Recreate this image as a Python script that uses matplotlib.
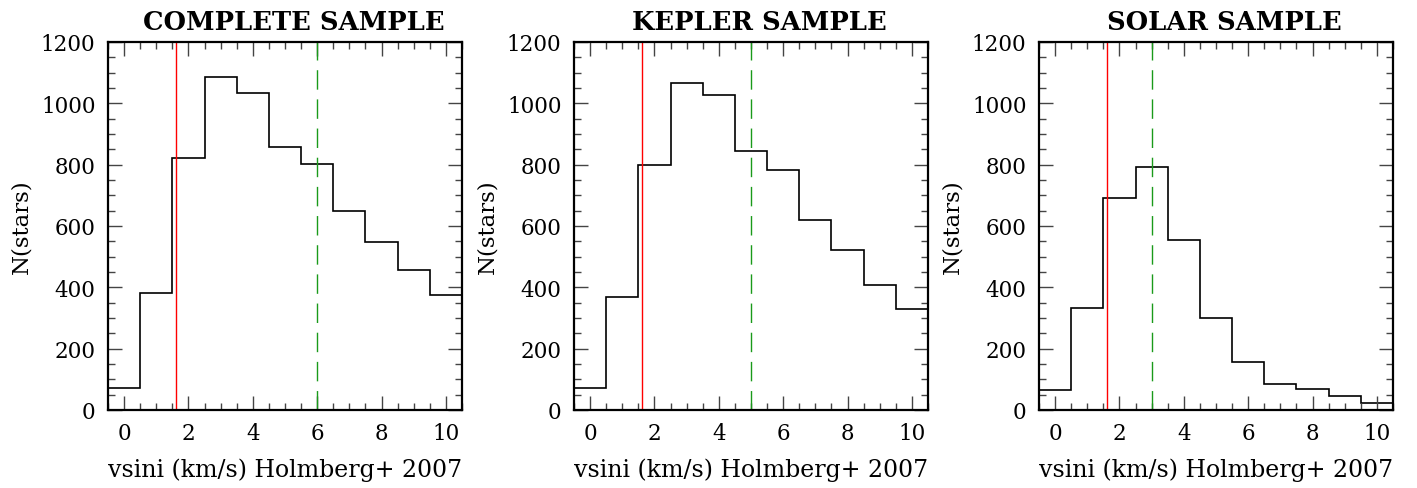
import numpy as np
import matplotlib
matplotlib.use("Agg")
from matplotlib import pyplot as plt
from matplotlib.ticker import MultipleLocator

# bin centres 0..10 km/s, width 1
vsini_bins = np.arange(0, 11)
complete_counts = [71, 381, 822, 1085, 1033, 859, 803, 648, 547, 455, 376]
kepler_counts = [71, 369, 798, 1065, 1026, 844, 781, 621, 523, 408, 328]
solar_counts = [64, 334, 692, 791, 553, 300, 157, 86, 68, 46, 22]

titles = ["COMPLETE SAMPLE", "KEPLER SAMPLE", "SOLAR SAMPLE"]
samples = [complete_counts, kepler_counts, solar_counts]
red_line = 1.6
green_lines = [6.0, 5.0, 3.0]

plt.rcParams['font.family'] = ['DejaVu Serif']

fig = plt.figure(figsize=(14.17, 4.89), dpi=100)
lefts = [108 / 1417, 574 / 1417, 1039 / 1417]
edges = np.append(vsini_bins - 0.5, vsini_bins[-1] + 0.5)

for left, title, counts, gx in zip(lefts, titles, samples, green_lines):
  ax = fig.add_axes([left, 78 / 489, 354 / 1417, 368 / 489])
  ax.stairs(counts, edges, baseline=None, color='black', lw=1.2)
  ax.axvline(red_line, color='red', lw=1.0)
  ax.axvline(gx, color='#1a9a1a', lw=1.0, dashes=(14, 7))
  ax.set_xlim(-0.5, 10.5)
  ax.set_ylim(0, 1200)
  ax.xaxis.set_major_locator(MultipleLocator(2))
  ax.xaxis.set_minor_locator(MultipleLocator(0.5))
  ax.yaxis.set_major_locator(MultipleLocator(200))
  ax.yaxis.set_minor_locator(MultipleLocator(50))
  ax.tick_params(which='both', direction='in', top=True, right=True,
                 labelsize=15.5, width=1.0, color='#444444')
  ax.tick_params(which='major', length=10, pad=9)
  ax.tick_params(which='minor', length=5)
  for s in ax.spines.values():
    s.set_linewidth(1.6)
  ax.set_title(title, fontsize=18.5, fontweight='bold', pad=9, x=0.525)
  ax.set_xlabel("vsini (km/s) Holmberg+ 2007", fontsize=17, labelpad=9)
  ax.set_ylabel("N(stars)", fontsize=16.5, labelpad=6)

fig.savefig("out.png", dpi=100)
